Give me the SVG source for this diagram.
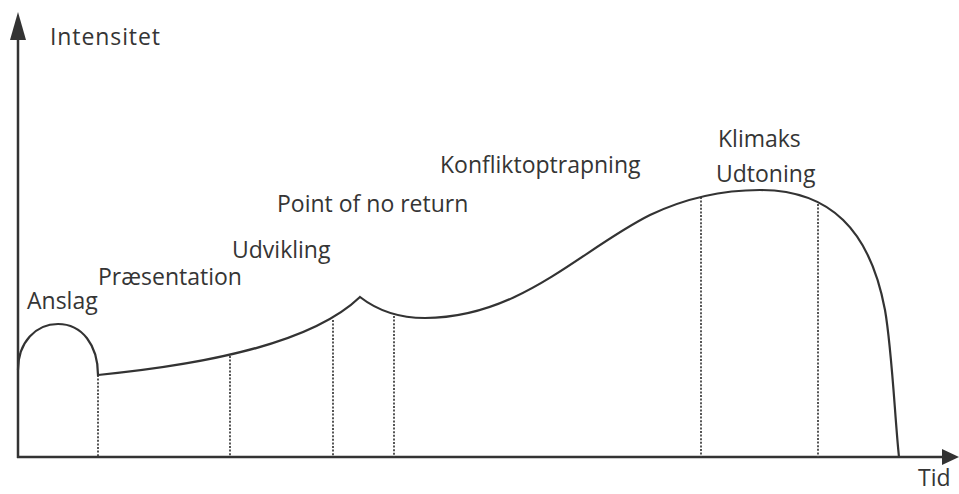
<svg xmlns="http://www.w3.org/2000/svg" width="959" height="494" viewBox="0 0 959 494">
<style>
text{font-family:"Open Sans","Noto Sans",sans-serif;font-size:23px;fill:#353535}
.axis{stroke:#333;stroke-width:2.5;fill:none}
.curve{stroke:#333;stroke-width:2.2;fill:none}
.dot{stroke:#444;stroke-width:1.8;stroke-dasharray:2 1.6;fill:none}
</style>
<rect width="959" height="494" fill="#fff"/>
<g id="axes">
<line class="axis" x1="18" y1="38" x2="18" y2="458"/>
<line class="axis" x1="17" y1="457" x2="945" y2="457"/>
<polygon points="18,12 10,40 26,40" fill="#333"/>
<polygon points="959,457 942,449 942,465" fill="#333"/>
</g>
<g id="guides">
<line class="dot" x1="98" y1="375" x2="98" y2="457"/>
<line class="dot" x1="230" y1="356" x2="230" y2="457"/>
<line class="dot" x1="333" y1="320" x2="333" y2="457"/>
<line class="dot" x1="394" y1="316" x2="394" y2="457"/>
<line class="dot" x1="701" y1="197" x2="701" y2="457"/>
<line class="dot" x1="818" y1="204" x2="818" y2="457"/>
</g>
<g id="curve">
<path class="curve" d="M18,370 C18,342 36,324 58,324 C82,324 98,345 98,375 C200,365 310,345 360,297 C378,311 400,318 425,318 C520,318 580,250 650,215 C690,196 730,190 760,190 C830,190 870,230 885,310 C892,350 895,420 899,457"/>
</g>
<g id="labels">
<text x="50" y="45" textLength="110">Intensitet</text>
<text x="27" y="309">Anslag</text>
<text x="98" y="285">Præsentation</text>
<text x="232" y="258">Udvikling</text>
<text x="277" y="212">Point of no return</text>
<text x="440" y="173">Konfliktoptrapning</text>
<text x="718" y="147">Klimaks</text>
<text x="716" y="182">Udtoning</text>
<text x="918" y="486">Tid</text>
</g>
</svg>
